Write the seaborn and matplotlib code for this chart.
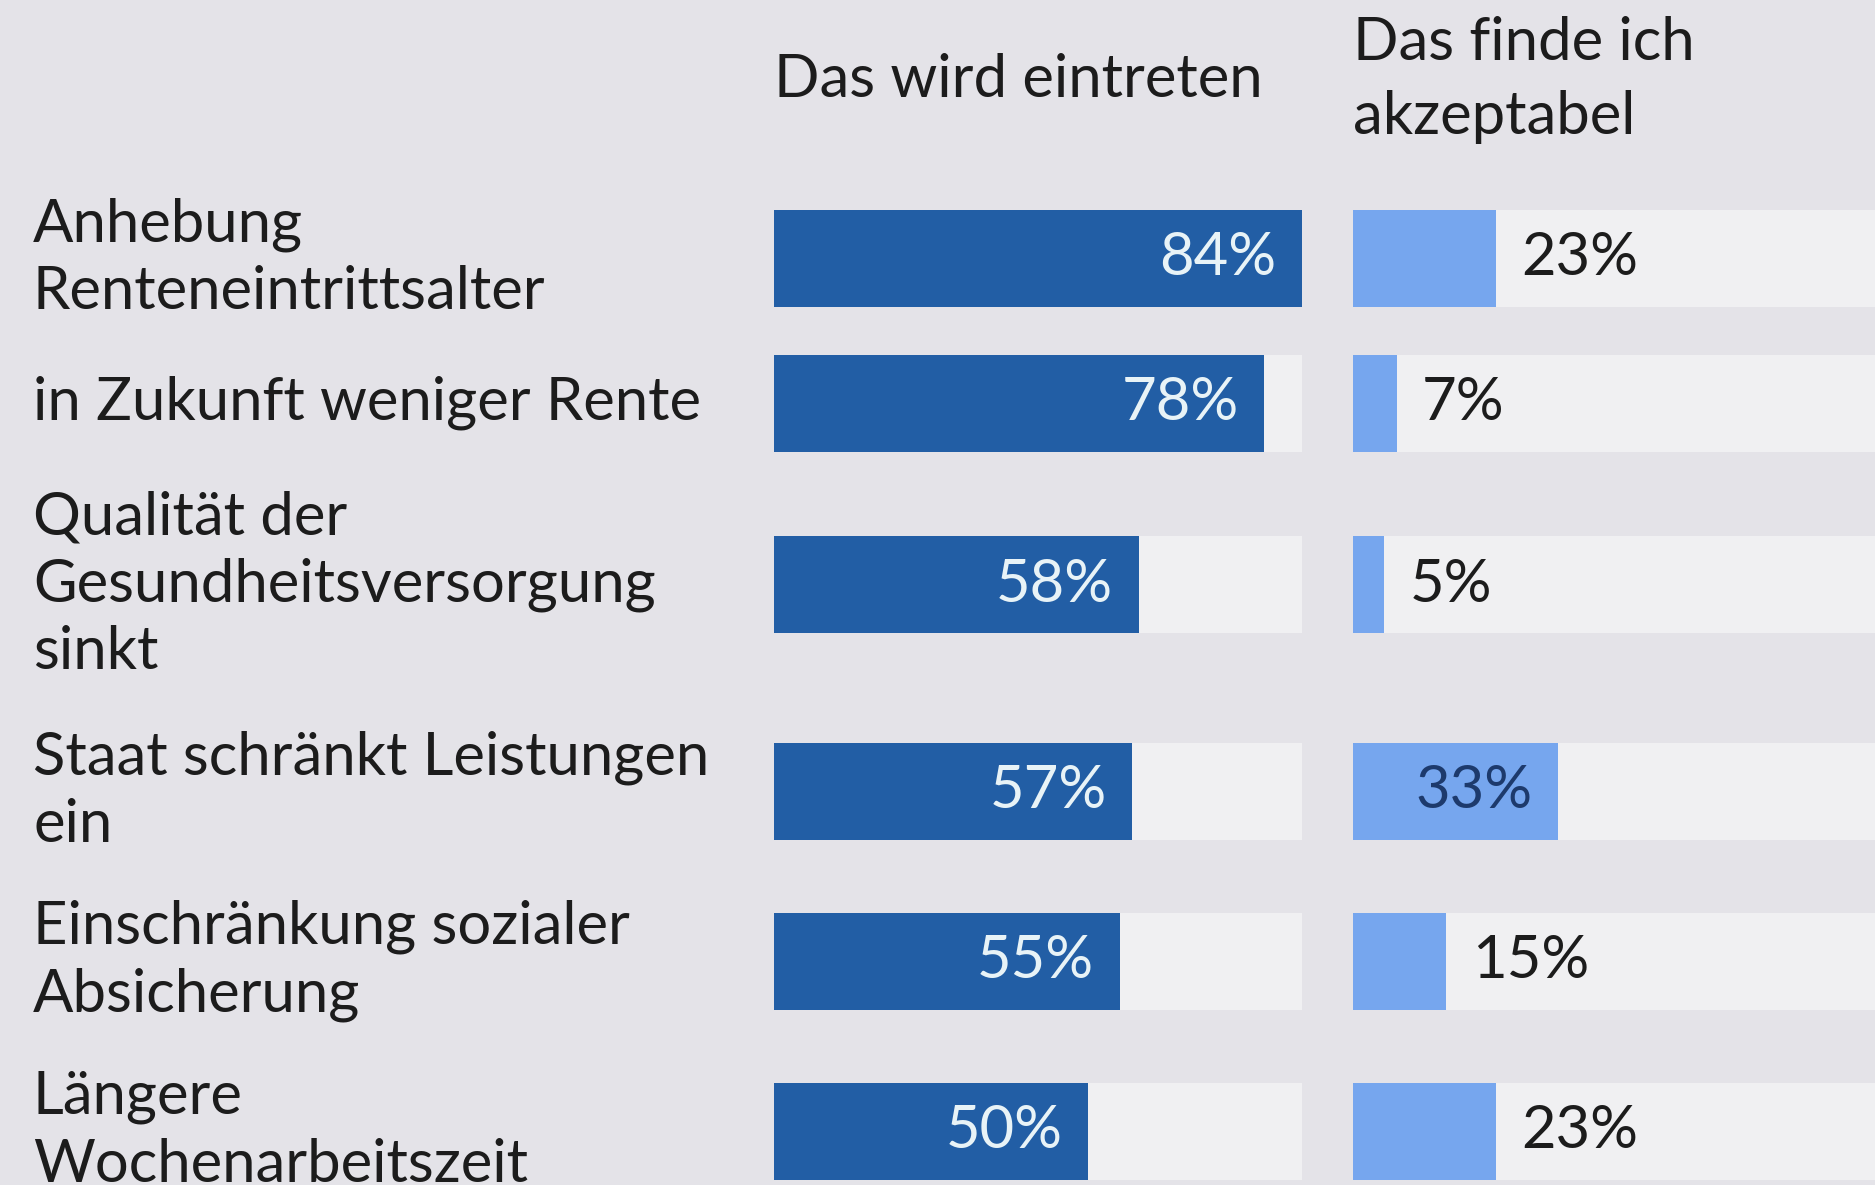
import numpy as np
import pandas as pd
import matplotlib
matplotlib.use("Agg")
import matplotlib.pyplot as plt
import seaborn as sns

# Data
categories = [
    "Anhebung\nRenteneintrittsalter",
    "in Zukunft weniger Rente",
    "Qualität der\nGesundheitsversorgung\nsinkt",
    "Staat schränkt Leistungen\nein",
    "Einschränkung sozialer\nAbsicherung",
    "Längere\nWochenarbeitszeit",
]
eintreten = [84, 78, 58, 57, 55, 50]
akzeptabel = [23, 7, 5, 33, 15, 23]
headers = ["Das wird eintreten", "Das finde ich\nakzeptabel"]

# Colours
BG = "#e4e3e8"
TRACK = "#f0f0f2"
DARK = "#225ea5"
LIGHT = "#76a6ee"
TEXT = "#1c1c1c"

sns.set_style("white")
plt.rcParams["font.family"] = ["Lato", "DejaVu Sans"]

W, H = 1875, 1185
fig = plt.figure(figsize=(W / 100, H / 100), dpi=100, facecolor=BG)

# row layout (pixel units, top-down): row height depends on label line count
row_h = {1: 120, 2: 170, 3: 243}
lines = [c.count("\n") + 1 for c in categories]
first_center = 258
gaps = [(row_h[a] + row_h[b]) / 2 for a, b in zip(lines[:-1], lines[1:])]
pos = np.concatenate([[first_center], first_center + np.cumsum(gaps)])
bar_h = 97
width = bar_h / np.diff(pos).min()

xmax = max(eintreten)
df = pd.DataFrame({"label": categories, "pos": pos,
                   "eintreten": eintreten, "akzeptabel": akzeptabel,
                   "track": [xmax] * len(categories)})

FS = 43
pad = 18.5  # points

panels = [
    (774, 528, "eintreten", DARK),
    (1353, 522, "akzeptabel", LIGHT),
]
axes = []
for (x0, w, col, color), head in zip(panels, headers):
    ax = fig.add_axes([x0 / W, 0, w / W, 1])
    ax.set_facecolor("none")
    sns.barplot(data=df, x="track", y="pos", orient="h", native_scale=True,
                color=TRACK, saturation=1, width=width, linewidth=0, ax=ax)
    sns.barplot(data=df, x=col, y="pos", orient="h", native_scale=True,
                color=color, saturation=1, width=width, linewidth=0, ax=ax)
    ax.set_xlim(0, xmax)
    ax.set_ylim(H, 0)
    ax.axis("off")

    for v, y in zip(df[col], df["pos"]):
        if col == "eintreten":
            ax.annotate(f"{v}%", (v, y), xytext=(-pad, 0), textcoords="offset points",
                        ha="right", va="center", fontsize=FS, color="#e8f3f7")
        elif v > 30:
            ax.annotate(f"{v}%", (v, y), xytext=(-pad, 0), textcoords="offset points",
                        ha="right", va="center", fontsize=FS, color="#1d3a6c")
        else:
            ax.annotate(f"{v}%", (v, y), xytext=(pad, 0), textcoords="offset points",
                        ha="left", va="center", fontsize=FS, color=TEXT)

    ax.text(0, 80, head, ha="left", va="center", fontsize=FS, color=TEXT,
            linespacing=1.45, clip_on=False)
    axes.append(ax)

# row labels on the left
for lab, y in zip(df["label"], df["pos"]):
    axes[0].text(33 / W, y, lab, transform=matplotlib.transforms.blended_transform_factory(
        fig.transFigure, axes[0].transData), ha="left", va="center",
        fontsize=FS, color=TEXT, linespacing=1.3)

fig.savefig("out.png", dpi=100, facecolor=BG)
